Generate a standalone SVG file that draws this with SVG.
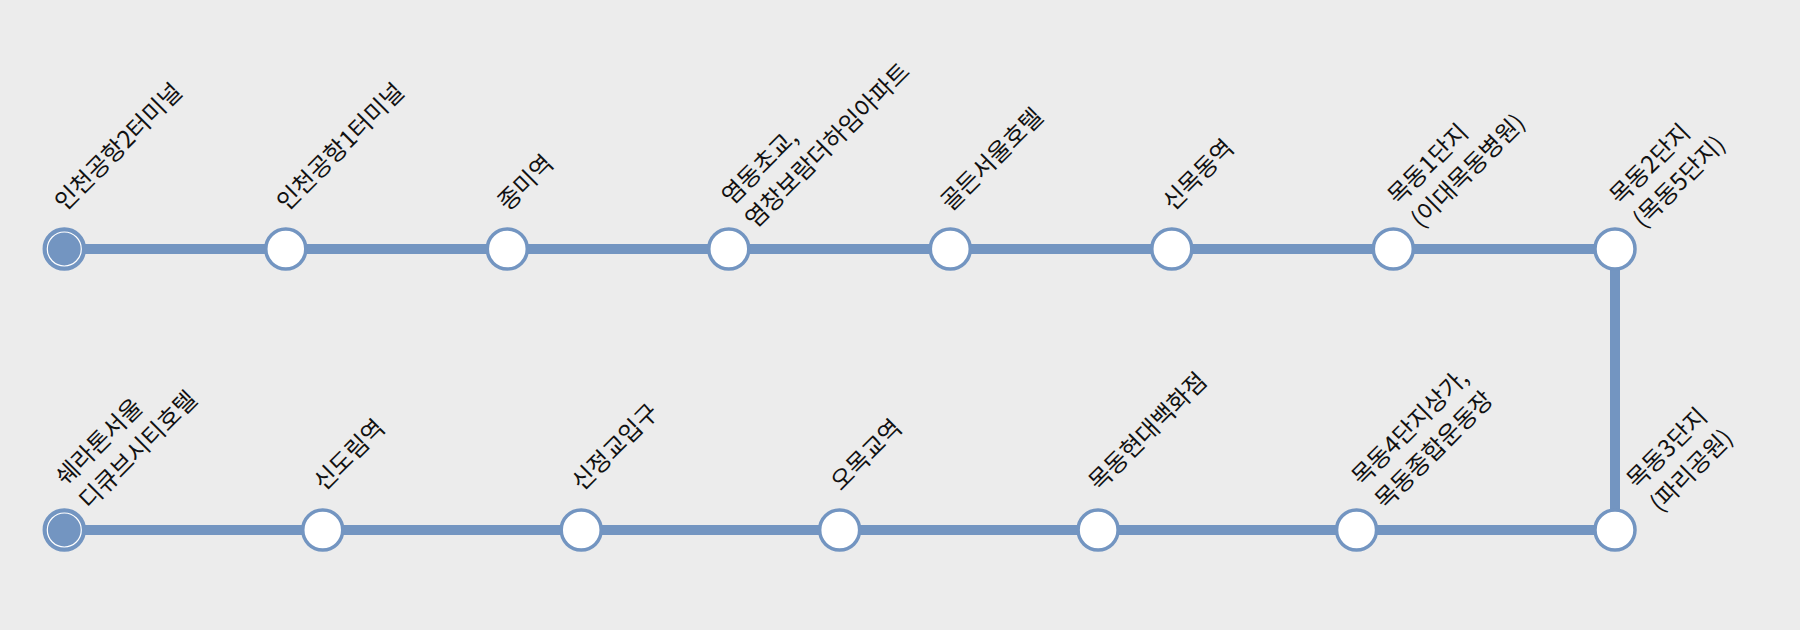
<svg xmlns="http://www.w3.org/2000/svg" width="1800" height="630" viewBox="0 0 1800 630">
<style>
.bg{fill:#ececec}
.line{stroke:#7395c1;stroke-width:10;fill:none}
.st{fill:#ffffff;stroke:#7395c1;stroke-width:3.5}
.term{fill:#7395c1;stroke:#7395c1;stroke-width:3.5}
.ring{fill:none;stroke:#ffffff;stroke-width:1.2}
.lbl{font-family:"Noto Sans CJK KR","Noto Sans",sans-serif;font-size:24px;fill:#111111}
</style>
<rect class="bg" x="0" y="0" width="1800" height="630"/>
<g id="connectors">
<polyline class="line" points="64.3,249 1615,249 1615,530 64.3,530"/>
</g>
<g id="n1"><circle class="term" cx="64.3" cy="249" r="20"/><circle class="ring" cx="64.3" cy="249" r="17"/>
<text class="lbl" transform="translate(65,212) rotate(-45)">인천공항2터미널</text></g>
<g id="n2"><circle class="st" cx="285.8" cy="249" r="20"/>
<text class="lbl" transform="translate(287,212) rotate(-45)">인천공항1터미널</text></g>
<g id="n3"><circle class="st" cx="507.3" cy="249" r="20"/>
<text class="lbl" transform="translate(508,212) rotate(-45)">종미역</text></g>
<g id="n4"><circle class="st" cx="728.8" cy="249" r="20"/>
<text class="lbl" transform="translate(732,206) rotate(-45)"><tspan x="0" y="0">염동초교,</tspan><tspan x="0" y="33">염창보람더하임아파트</tspan></text></g>
<g id="n5"><circle class="st" cx="950.3" cy="249" r="20"/>
<text class="lbl" transform="translate(951,212) rotate(-45)">골든서울호텔</text></g>
<g id="n6"><circle class="st" cx="1171.8" cy="249" r="20"/>
<text class="lbl" transform="translate(1173,212) rotate(-45)">신목동역</text></g>
<g id="n7"><circle class="st" cx="1393.3" cy="249" r="20"/>
<text class="lbl" transform="translate(1398,206) rotate(-45)"><tspan x="0" y="0">목동1단지</tspan><tspan x="0" y="33">(이대목동병원)</tspan></text></g>
<g id="n8"><circle class="st" cx="1615" cy="249" r="20"/>
<text class="lbl" transform="translate(1620,206) rotate(-45)"><tspan x="0" y="0">목동2단지</tspan><tspan x="0" y="33">(목동5단지)</tspan></text></g>
<g id="n9"><circle class="st" cx="1615" cy="530" r="20"/>
<text class="lbl" transform="translate(1637,490) rotate(-45)"><tspan x="0" y="0">목동3단지</tspan><tspan x="0" y="33">(파리공원)</tspan></text></g>
<g id="n10"><circle class="st" cx="1356.55" cy="530" r="20"/>
<text class="lbl" transform="translate(1362,487) rotate(-45)"><tspan x="0" y="0">목동4단지상가,</tspan><tspan x="0" y="33">목동종합운동장</tspan></text></g>
<g id="n11"><circle class="st" cx="1098.1" cy="530" r="20"/>
<text class="lbl" transform="translate(1099,492) rotate(-45)">목동현대백화점</text></g>
<g id="n12"><circle class="st" cx="839.65" cy="530" r="20"/>
<text class="lbl" transform="translate(841,492) rotate(-45)">오목교역</text></g>
<g id="n13"><circle class="st" cx="581.2" cy="530" r="20"/>
<text class="lbl" transform="translate(582,492) rotate(-45)">신정교입구</text></g>
<g id="n14"><circle class="st" cx="322.75" cy="530" r="20"/>
<text class="lbl" transform="translate(324,492) rotate(-45)">신도림역</text></g>
<g id="n15"><circle class="term" cx="64.3" cy="530" r="20"/><circle class="ring" cx="64.3" cy="530" r="17"/>
<text class="lbl" transform="translate(66,487) rotate(-45)"><tspan x="0" y="0">쉐라톤서울</tspan><tspan x="0" y="33">디큐브시티호텔</tspan></text></g>
</svg>
